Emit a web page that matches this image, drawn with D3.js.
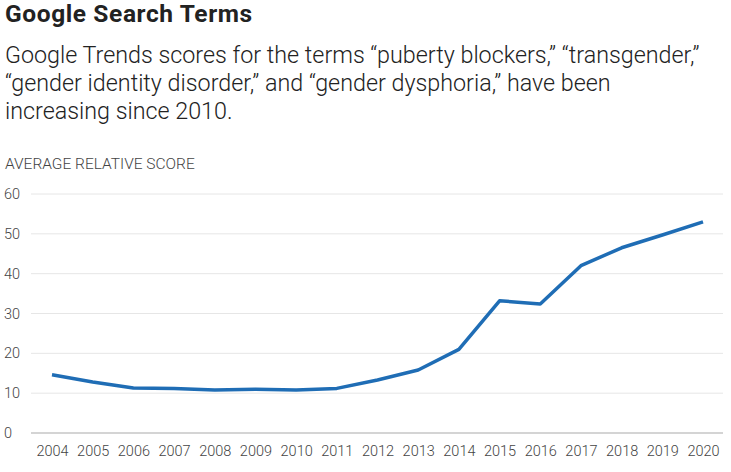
<!DOCTYPE html>
<html>
<head>
<meta charset="utf-8">
<script src="https://cdn.jsdelivr.net/npm/d3@7"></script>
<style>
  body { margin: 0; background: #fff; }
  svg { display: block; font-family: Roboto, "Noto Sans", sans-serif; }
</style>
</head>
<body>
<svg id="chart" width="731" height="472"></svg>
<script>
var years = [2004, 2005, 2006, 2007, 2008, 2009, 2010, 2011, 2012, 2013, 2014, 2015, 2016, 2017, 2018, 2019, 2020];
var scores = [14.6, 12.8, 11.3, 11.2, 10.8, 11.0, 10.8, 11.2, 13.3, 15.8, 21.0, 33.2, 32.4, 42.0, 46.5, 49.7, 53.0];
var yTicks = [0, 10, 20, 30, 40, 50, 60];

var subtitle = [
  "Google Trends scores for the terms \u201cpuberty blockers,\u201d \u201ctransgender,\u201d",
  "\u201cgender identity disorder,\u201d and \u201cgender dysphoria,\u201d have been",
  "increasing since 2010."
];

var svg = d3.select('#chart');

// --- heading ---
svg.append('text')
   .attr('x', 5).attr('y', 22)
   .attr('font-size', 24.5).attr('font-weight', 700)
   .attr('letter-spacing', 0.6)
   .attr('fill', '#222')
   .text('Google Search Terms');

svg.selectAll('.sub').data(subtitle).enter().append('text')
   .attr('class', 'sub')
   .attr('x', 5).attr('y', function(d, i) { return 63 + i * 28; })
   .attr('font-size', 23.3).attr('font-weight', 300)
   .attr('fill', '#222')
   .text(function(d) { return d; });

svg.append('text')
   .attr('x', 5).attr('y', 169)
   .attr('font-size', 15.5).attr('font-weight', 300)
   .attr('fill', '#444')
   .text('AVERAGE RELATIVE SCORE');

// --- scales ---
var x = d3.scaleLinear().domain([2004, 2020]).range([52, 703]);
var y = d3.scaleLinear().domain([0, 60]).range([433, 194]);

// grid
svg.selectAll('.grid').data(yTicks.slice(1)).enter().append('line')
   .attr('x1', 31).attr('x2', 723)
   .attr('y1', function(d) { return y(d); })
   .attr('y2', function(d) { return y(d); })
   .attr('stroke', '#e6e6e6').attr('stroke-width', 1);

svg.append('line')
   .attr('x1', 31).attr('x2', 723)
   .attr('y1', y(0)).attr('y2', y(0))
   .attr('stroke', '#aaa').attr('stroke-width', 1.2);

// y labels
svg.selectAll('.ylab').data(yTicks).enter().append('text')
   .attr('x', 4)
   .attr('y', function(d) { return y(d) + 5; })
   .attr('font-size', 14.5).attr('font-weight', 300).attr('fill', '#444')
   .text(function(d) { return d; });

// x axis labels
var xAxis = d3.axisBottom(x).tickValues(years).tickFormat(d3.format('d')).tickSize(0).tickPadding(13);
var gx = svg.append('g').attr('transform', 'translate(0,' + y(0) + ')').call(xAxis);
gx.select('.domain').remove();
gx.selectAll('text').attr('font-size', 14.5).attr('font-weight', 300).attr('fill', '#444')
  .attr('font-family', 'Roboto, sans-serif');

// line
var line = d3.line()
  .x(function(d, i) { return x(years[i]); })
  .y(function(d) { return y(d); });

svg.append('path')
   .datum(scores)
   .attr('d', line)
   .attr('fill', 'none')
   .attr('stroke', '#1f6db5')
   .attr('stroke-width', 3.5)
   .attr('stroke-linejoin', 'round');
</script>
</body>
</html>
